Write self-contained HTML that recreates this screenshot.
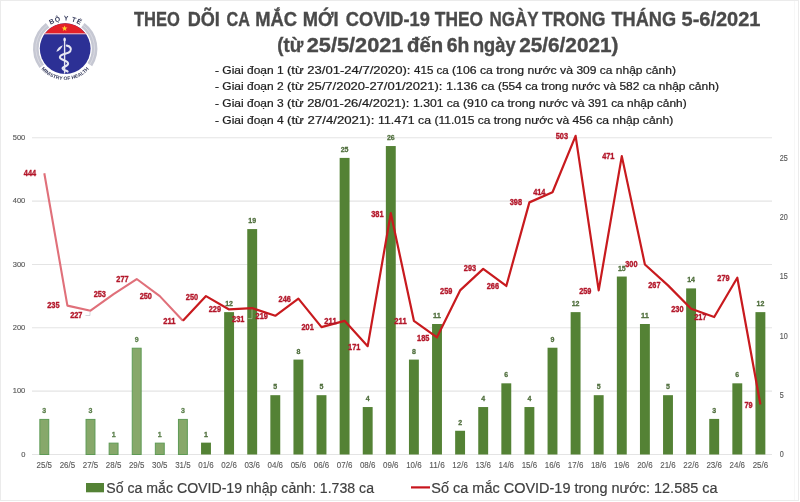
<!DOCTYPE html>
<html><head><meta charset="utf-8"><style>
html,body{margin:0;padding:0;background:#fff;}
svg{display:block;font-family:"Liberation Sans", sans-serif;will-change:transform;}
</style></head><body>
<svg width="800" height="502" viewBox="0 0 800 502">
<rect x="0.5" y="0.5" width="798" height="500" fill="#fff" stroke="#ebebeb" stroke-width="1"/><line x1="794.5" y1="1" x2="794.5" y2="500" stroke="#f7f7f7"/>
<line x1="32" y1="391.15" x2="772" y2="391.15" stroke="#e4e4e4" stroke-width="1.1"/>
<line x1="32" y1="327.80" x2="772" y2="327.80" stroke="#e4e4e4" stroke-width="1.1"/>
<line x1="32" y1="264.45" x2="772" y2="264.45" stroke="#e4e4e4" stroke-width="1.1"/>
<line x1="32" y1="201.10" x2="772" y2="201.10" stroke="#e4e4e4" stroke-width="1.1"/>
<line x1="32" y1="137.75" x2="772" y2="137.75" stroke="#e4e4e4" stroke-width="1.1"/>
<line x1="32" y1="454.50" x2="772" y2="454.50" stroke="#e4e4e4" stroke-width="1.1"/>
<text x="21.13" y="456.70" font-size="7.9" fill="#595959" stroke="#595959" stroke-width="0.15" textLength="4.17" lengthAdjust="spacingAndGlyphs">0</text>
<text x="12.79" y="393.35" font-size="7.9" fill="#595959" stroke="#595959" stroke-width="0.15" textLength="12.51" lengthAdjust="spacingAndGlyphs">100</text>
<text x="12.79" y="330.00" font-size="7.9" fill="#595959" stroke="#595959" stroke-width="0.15" textLength="12.51" lengthAdjust="spacingAndGlyphs">200</text>
<text x="12.79" y="266.65" font-size="7.9" fill="#595959" stroke="#595959" stroke-width="0.15" textLength="12.51" lengthAdjust="spacingAndGlyphs">300</text>
<text x="12.79" y="203.30" font-size="7.9" fill="#595959" stroke="#595959" stroke-width="0.15" textLength="12.51" lengthAdjust="spacingAndGlyphs">400</text>
<text x="12.79" y="139.95" font-size="7.9" fill="#595959" stroke="#595959" stroke-width="0.15" textLength="12.51" lengthAdjust="spacingAndGlyphs">500</text>
<text x="779.8" y="457.40" font-size="8.7" fill="#595959" stroke="#595959" stroke-width="0.15" textLength="4.00" lengthAdjust="spacingAndGlyphs">0</text>
<text x="779.8" y="398.08" font-size="8.7" fill="#595959" stroke="#595959" stroke-width="0.15" textLength="4.00" lengthAdjust="spacingAndGlyphs">5</text>
<text x="779.8" y="338.76" font-size="8.7" fill="#595959" stroke="#595959" stroke-width="0.15" textLength="8.00" lengthAdjust="spacingAndGlyphs">10</text>
<text x="779.8" y="279.44" font-size="8.7" fill="#595959" stroke="#595959" stroke-width="0.15" textLength="8.00" lengthAdjust="spacingAndGlyphs">15</text>
<text x="779.8" y="220.12" font-size="8.7" fill="#595959" stroke="#595959" stroke-width="0.15" textLength="8.00" lengthAdjust="spacingAndGlyphs">20</text>
<text x="779.8" y="160.80" font-size="8.7" fill="#595959" stroke="#595959" stroke-width="0.15" textLength="8.00" lengthAdjust="spacingAndGlyphs">25</text>
<rect x="39.85" y="419.41" width="8.9" height="35.09" fill="#87a86a" stroke="#5e9a55" stroke-width="1"/>
<text x="44.30" y="412.91" text-anchor="middle" font-size="7.9" font-weight="bold" fill="#5b7f4b" stroke="#5b7f4b" stroke-width="0.3" textLength="3.9" lengthAdjust="spacingAndGlyphs">3</text>
<rect x="86.05" y="419.41" width="8.9" height="35.09" fill="#87a86a" stroke="#5e9a55" stroke-width="1"/>
<text x="90.50" y="412.91" text-anchor="middle" font-size="7.9" font-weight="bold" fill="#5b7f4b" stroke="#5b7f4b" stroke-width="0.3" textLength="3.9" lengthAdjust="spacingAndGlyphs">3</text>
<rect x="109.15" y="443.14" width="8.9" height="11.36" fill="#87a86a" stroke="#5e9a55" stroke-width="1"/>
<text x="113.60" y="436.64" text-anchor="middle" font-size="7.9" font-weight="bold" fill="#5b7f4b" stroke="#5b7f4b" stroke-width="0.3" textLength="3.9" lengthAdjust="spacingAndGlyphs">1</text>
<rect x="132.25" y="348.22" width="8.9" height="106.28" fill="#87a86a" stroke="#5e9a55" stroke-width="1"/>
<text x="136.70" y="341.72" text-anchor="middle" font-size="7.9" font-weight="bold" fill="#5b7f4b" stroke="#5b7f4b" stroke-width="0.3" textLength="3.9" lengthAdjust="spacingAndGlyphs">9</text>
<rect x="155.35" y="443.14" width="8.9" height="11.36" fill="#87a86a" stroke="#5e9a55" stroke-width="1"/>
<text x="159.80" y="436.64" text-anchor="middle" font-size="7.9" font-weight="bold" fill="#5b7f4b" stroke="#5b7f4b" stroke-width="0.3" textLength="3.9" lengthAdjust="spacingAndGlyphs">1</text>
<rect x="178.45" y="419.41" width="8.9" height="35.09" fill="#87a86a" stroke="#5e9a55" stroke-width="1"/>
<text x="182.90" y="412.91" text-anchor="middle" font-size="7.9" font-weight="bold" fill="#5b7f4b" stroke="#5b7f4b" stroke-width="0.3" textLength="3.9" lengthAdjust="spacingAndGlyphs">3</text>
<rect x="201.05" y="442.64" width="9.9" height="11.86" fill="#548235"/>
<text x="206.00" y="436.64" text-anchor="middle" font-size="7.9" font-weight="bold" fill="#4f6e3c" stroke="#4f6e3c" stroke-width="0.3" textLength="3.9" lengthAdjust="spacingAndGlyphs">1</text>
<rect x="224.15" y="312.13" width="9.9" height="142.37" fill="#548235"/>
<text x="229.10" y="306.13" text-anchor="middle" font-size="7.9" font-weight="bold" fill="#4f6e3c" stroke="#4f6e3c" stroke-width="0.3" textLength="7.8" lengthAdjust="spacingAndGlyphs">12</text>
<rect x="247.25" y="229.08" width="9.9" height="225.42" fill="#548235"/>
<text x="252.20" y="223.08" text-anchor="middle" font-size="7.9" font-weight="bold" fill="#4f6e3c" stroke="#4f6e3c" stroke-width="0.3" textLength="7.8" lengthAdjust="spacingAndGlyphs">19</text>
<rect x="270.35" y="395.18" width="9.9" height="59.32" fill="#548235"/>
<text x="275.30" y="389.18" text-anchor="middle" font-size="7.9" font-weight="bold" fill="#4f6e3c" stroke="#4f6e3c" stroke-width="0.3" textLength="3.9" lengthAdjust="spacingAndGlyphs">5</text>
<rect x="293.45" y="359.59" width="9.9" height="94.91" fill="#548235"/>
<text x="298.40" y="353.59" text-anchor="middle" font-size="7.9" font-weight="bold" fill="#4f6e3c" stroke="#4f6e3c" stroke-width="0.3" textLength="3.9" lengthAdjust="spacingAndGlyphs">8</text>
<rect x="316.55" y="395.18" width="9.9" height="59.32" fill="#548235"/>
<text x="321.50" y="389.18" text-anchor="middle" font-size="7.9" font-weight="bold" fill="#4f6e3c" stroke="#4f6e3c" stroke-width="0.3" textLength="3.9" lengthAdjust="spacingAndGlyphs">5</text>
<rect x="339.65" y="157.90" width="9.9" height="296.60" fill="#548235"/>
<text x="344.60" y="151.90" text-anchor="middle" font-size="7.9" font-weight="bold" fill="#4f6e3c" stroke="#4f6e3c" stroke-width="0.3" textLength="7.8" lengthAdjust="spacingAndGlyphs">25</text>
<rect x="362.75" y="407.04" width="9.9" height="47.46" fill="#548235"/>
<text x="367.70" y="401.04" text-anchor="middle" font-size="7.9" font-weight="bold" fill="#4f6e3c" stroke="#4f6e3c" stroke-width="0.3" textLength="3.9" lengthAdjust="spacingAndGlyphs">4</text>
<rect x="385.85" y="146.04" width="9.9" height="308.46" fill="#548235"/>
<text x="390.80" y="140.04" text-anchor="middle" font-size="7.9" font-weight="bold" fill="#4f6e3c" stroke="#4f6e3c" stroke-width="0.3" textLength="7.8" lengthAdjust="spacingAndGlyphs">26</text>
<rect x="408.95" y="359.59" width="9.9" height="94.91" fill="#548235"/>
<text x="413.90" y="353.59" text-anchor="middle" font-size="7.9" font-weight="bold" fill="#4f6e3c" stroke="#4f6e3c" stroke-width="0.3" textLength="3.9" lengthAdjust="spacingAndGlyphs">8</text>
<rect x="432.05" y="324.00" width="9.9" height="130.50" fill="#548235"/>
<text x="437.00" y="318.00" text-anchor="middle" font-size="7.9" font-weight="bold" fill="#4f6e3c" stroke="#4f6e3c" stroke-width="0.3" textLength="7.8" lengthAdjust="spacingAndGlyphs">11</text>
<rect x="455.15" y="430.77" width="9.9" height="23.73" fill="#548235"/>
<text x="460.10" y="424.77" text-anchor="middle" font-size="7.9" font-weight="bold" fill="#4f6e3c" stroke="#4f6e3c" stroke-width="0.3" textLength="3.9" lengthAdjust="spacingAndGlyphs">2</text>
<rect x="478.25" y="407.04" width="9.9" height="47.46" fill="#548235"/>
<text x="483.20" y="401.04" text-anchor="middle" font-size="7.9" font-weight="bold" fill="#4f6e3c" stroke="#4f6e3c" stroke-width="0.3" textLength="3.9" lengthAdjust="spacingAndGlyphs">4</text>
<rect x="501.35" y="383.32" width="9.9" height="71.18" fill="#548235"/>
<text x="506.30" y="377.32" text-anchor="middle" font-size="7.9" font-weight="bold" fill="#4f6e3c" stroke="#4f6e3c" stroke-width="0.3" textLength="3.9" lengthAdjust="spacingAndGlyphs">6</text>
<rect x="524.45" y="407.04" width="9.9" height="47.46" fill="#548235"/>
<text x="529.40" y="401.04" text-anchor="middle" font-size="7.9" font-weight="bold" fill="#4f6e3c" stroke="#4f6e3c" stroke-width="0.3" textLength="3.9" lengthAdjust="spacingAndGlyphs">4</text>
<rect x="547.55" y="347.72" width="9.9" height="106.78" fill="#548235"/>
<text x="552.50" y="341.72" text-anchor="middle" font-size="7.9" font-weight="bold" fill="#4f6e3c" stroke="#4f6e3c" stroke-width="0.3" textLength="3.9" lengthAdjust="spacingAndGlyphs">9</text>
<rect x="570.65" y="312.13" width="9.9" height="142.37" fill="#548235"/>
<text x="575.60" y="306.13" text-anchor="middle" font-size="7.9" font-weight="bold" fill="#4f6e3c" stroke="#4f6e3c" stroke-width="0.3" textLength="7.8" lengthAdjust="spacingAndGlyphs">12</text>
<rect x="593.75" y="395.18" width="9.9" height="59.32" fill="#548235"/>
<text x="598.70" y="389.18" text-anchor="middle" font-size="7.9" font-weight="bold" fill="#4f6e3c" stroke="#4f6e3c" stroke-width="0.3" textLength="3.9" lengthAdjust="spacingAndGlyphs">5</text>
<rect x="616.85" y="276.54" width="9.9" height="177.96" fill="#548235"/>
<text x="621.80" y="270.54" text-anchor="middle" font-size="7.9" font-weight="bold" fill="#4f6e3c" stroke="#4f6e3c" stroke-width="0.3" textLength="7.8" lengthAdjust="spacingAndGlyphs">15</text>
<rect x="639.95" y="324.00" width="9.9" height="130.50" fill="#548235"/>
<text x="644.90" y="318.00" text-anchor="middle" font-size="7.9" font-weight="bold" fill="#4f6e3c" stroke="#4f6e3c" stroke-width="0.3" textLength="7.8" lengthAdjust="spacingAndGlyphs">11</text>
<rect x="663.05" y="395.18" width="9.9" height="59.32" fill="#548235"/>
<text x="668.00" y="389.18" text-anchor="middle" font-size="7.9" font-weight="bold" fill="#4f6e3c" stroke="#4f6e3c" stroke-width="0.3" textLength="3.9" lengthAdjust="spacingAndGlyphs">5</text>
<rect x="686.15" y="288.40" width="9.9" height="166.10" fill="#548235"/>
<text x="691.10" y="282.40" text-anchor="middle" font-size="7.9" font-weight="bold" fill="#4f6e3c" stroke="#4f6e3c" stroke-width="0.3" textLength="7.8" lengthAdjust="spacingAndGlyphs">14</text>
<rect x="709.25" y="418.91" width="9.9" height="35.59" fill="#548235"/>
<text x="714.20" y="412.91" text-anchor="middle" font-size="7.9" font-weight="bold" fill="#4f6e3c" stroke="#4f6e3c" stroke-width="0.3" textLength="3.9" lengthAdjust="spacingAndGlyphs">3</text>
<rect x="732.35" y="383.32" width="9.9" height="71.18" fill="#548235"/>
<text x="737.30" y="377.32" text-anchor="middle" font-size="7.9" font-weight="bold" fill="#4f6e3c" stroke="#4f6e3c" stroke-width="0.3" textLength="3.9" lengthAdjust="spacingAndGlyphs">6</text>
<rect x="755.45" y="312.13" width="9.9" height="142.37" fill="#548235"/>
<text x="760.40" y="306.13" text-anchor="middle" font-size="7.9" font-weight="bold" fill="#4f6e3c" stroke="#4f6e3c" stroke-width="0.3" textLength="7.8" lengthAdjust="spacingAndGlyphs">12</text>
<text x="36.55" y="467.9" font-size="8.9" fill="#595959" stroke="#595959" stroke-width="0.12" textLength="15.5" lengthAdjust="spacingAndGlyphs">25/5</text>
<text x="59.65" y="467.9" font-size="8.9" fill="#595959" stroke="#595959" stroke-width="0.12" textLength="15.5" lengthAdjust="spacingAndGlyphs">26/5</text>
<text x="82.75" y="467.9" font-size="8.9" fill="#595959" stroke="#595959" stroke-width="0.12" textLength="15.5" lengthAdjust="spacingAndGlyphs">27/5</text>
<text x="105.85" y="467.9" font-size="8.9" fill="#595959" stroke="#595959" stroke-width="0.12" textLength="15.5" lengthAdjust="spacingAndGlyphs">28/5</text>
<text x="128.95" y="467.9" font-size="8.9" fill="#595959" stroke="#595959" stroke-width="0.12" textLength="15.5" lengthAdjust="spacingAndGlyphs">29/5</text>
<text x="152.05" y="467.9" font-size="8.9" fill="#595959" stroke="#595959" stroke-width="0.12" textLength="15.5" lengthAdjust="spacingAndGlyphs">30/5</text>
<text x="175.15" y="467.9" font-size="8.9" fill="#595959" stroke="#595959" stroke-width="0.12" textLength="15.5" lengthAdjust="spacingAndGlyphs">31/5</text>
<text x="198.25" y="467.9" font-size="8.9" fill="#595959" stroke="#595959" stroke-width="0.12" textLength="15.5" lengthAdjust="spacingAndGlyphs">01/6</text>
<text x="221.35" y="467.9" font-size="8.9" fill="#595959" stroke="#595959" stroke-width="0.12" textLength="15.5" lengthAdjust="spacingAndGlyphs">02/6</text>
<text x="244.45" y="467.9" font-size="8.9" fill="#595959" stroke="#595959" stroke-width="0.12" textLength="15.5" lengthAdjust="spacingAndGlyphs">03/6</text>
<text x="267.55" y="467.9" font-size="8.9" fill="#595959" stroke="#595959" stroke-width="0.12" textLength="15.5" lengthAdjust="spacingAndGlyphs">04/6</text>
<text x="290.65" y="467.9" font-size="8.9" fill="#595959" stroke="#595959" stroke-width="0.12" textLength="15.5" lengthAdjust="spacingAndGlyphs">05/6</text>
<text x="313.75" y="467.9" font-size="8.9" fill="#595959" stroke="#595959" stroke-width="0.12" textLength="15.5" lengthAdjust="spacingAndGlyphs">06/6</text>
<text x="336.85" y="467.9" font-size="8.9" fill="#595959" stroke="#595959" stroke-width="0.12" textLength="15.5" lengthAdjust="spacingAndGlyphs">07/6</text>
<text x="359.95" y="467.9" font-size="8.9" fill="#595959" stroke="#595959" stroke-width="0.12" textLength="15.5" lengthAdjust="spacingAndGlyphs">08/6</text>
<text x="383.05" y="467.9" font-size="8.9" fill="#595959" stroke="#595959" stroke-width="0.12" textLength="15.5" lengthAdjust="spacingAndGlyphs">09/6</text>
<text x="406.15" y="467.9" font-size="8.9" fill="#595959" stroke="#595959" stroke-width="0.12" textLength="15.5" lengthAdjust="spacingAndGlyphs">10/6</text>
<text x="429.25" y="467.9" font-size="8.9" fill="#595959" stroke="#595959" stroke-width="0.12" textLength="15.5" lengthAdjust="spacingAndGlyphs">11/6</text>
<text x="452.35" y="467.9" font-size="8.9" fill="#595959" stroke="#595959" stroke-width="0.12" textLength="15.5" lengthAdjust="spacingAndGlyphs">12/6</text>
<text x="475.45" y="467.9" font-size="8.9" fill="#595959" stroke="#595959" stroke-width="0.12" textLength="15.5" lengthAdjust="spacingAndGlyphs">13/6</text>
<text x="498.55" y="467.9" font-size="8.9" fill="#595959" stroke="#595959" stroke-width="0.12" textLength="15.5" lengthAdjust="spacingAndGlyphs">14/6</text>
<text x="521.65" y="467.9" font-size="8.9" fill="#595959" stroke="#595959" stroke-width="0.12" textLength="15.5" lengthAdjust="spacingAndGlyphs">15/6</text>
<text x="544.75" y="467.9" font-size="8.9" fill="#595959" stroke="#595959" stroke-width="0.12" textLength="15.5" lengthAdjust="spacingAndGlyphs">16/6</text>
<text x="567.85" y="467.9" font-size="8.9" fill="#595959" stroke="#595959" stroke-width="0.12" textLength="15.5" lengthAdjust="spacingAndGlyphs">17/6</text>
<text x="590.95" y="467.9" font-size="8.9" fill="#595959" stroke="#595959" stroke-width="0.12" textLength="15.5" lengthAdjust="spacingAndGlyphs">18/6</text>
<text x="614.05" y="467.9" font-size="8.9" fill="#595959" stroke="#595959" stroke-width="0.12" textLength="15.5" lengthAdjust="spacingAndGlyphs">19/6</text>
<text x="637.15" y="467.9" font-size="8.9" fill="#595959" stroke="#595959" stroke-width="0.12" textLength="15.5" lengthAdjust="spacingAndGlyphs">20/6</text>
<text x="660.25" y="467.9" font-size="8.9" fill="#595959" stroke="#595959" stroke-width="0.12" textLength="15.5" lengthAdjust="spacingAndGlyphs">21/6</text>
<text x="683.35" y="467.9" font-size="8.9" fill="#595959" stroke="#595959" stroke-width="0.12" textLength="15.5" lengthAdjust="spacingAndGlyphs">22/6</text>
<text x="706.45" y="467.9" font-size="8.9" fill="#595959" stroke="#595959" stroke-width="0.12" textLength="15.5" lengthAdjust="spacingAndGlyphs">23/6</text>
<text x="729.55" y="467.9" font-size="8.9" fill="#595959" stroke="#595959" stroke-width="0.12" textLength="15.5" lengthAdjust="spacingAndGlyphs">24/6</text>
<text x="752.65" y="467.9" font-size="8.9" fill="#595959" stroke="#595959" stroke-width="0.12" textLength="15.5" lengthAdjust="spacingAndGlyphs">25/6</text>
<polyline points="44.30,173.23 67.40,305.63 90.50,310.70 113.60,294.22 136.70,279.02 159.80,296.12 182.90,320.83" fill="none" stroke="#e0707a" stroke-width="2.1" stroke-linejoin="round"/>
<polyline points="182.90,320.83 206.00,296.12 229.10,309.43 252.20,308.16 275.30,315.76 298.40,298.66 321.50,327.17 344.60,320.83 367.70,346.17 390.80,213.14 413.90,320.83 437.00,337.30 460.10,290.42 483.20,268.88 506.30,285.99 529.40,202.37 552.50,192.23 575.60,135.85 598.70,290.42 621.80,156.12 644.90,264.45 668.00,285.36 691.10,308.80 714.20,317.03 737.30,277.75 760.40,404.45" fill="none" stroke="#c81a1e" stroke-width="2.2" stroke-linejoin="round"/>
<polyline points="252,309.5 252,318.6 247.8,318.6" fill="none" stroke="#a9c79a" stroke-width="0.7"/>
<polyline points="90,312 90,315.5 85.5,315.5" fill="none" stroke="#c4c4cc" stroke-width="0.7"/>
<text x="30.00" y="176.30" text-anchor="middle" font-size="8.6" font-weight="bold" fill="#b3172a" stroke="#b3172a" stroke-width="0.35" textLength="12.3" lengthAdjust="spacingAndGlyphs">444</text>
<text x="53.40" y="308.20" text-anchor="middle" font-size="8.6" font-weight="bold" fill="#b3172a" stroke="#b3172a" stroke-width="0.35" textLength="12.3" lengthAdjust="spacingAndGlyphs">235</text>
<text x="76.30" y="318.20" text-anchor="middle" font-size="8.6" font-weight="bold" fill="#b3172a" stroke="#b3172a" stroke-width="0.35" textLength="12.3" lengthAdjust="spacingAndGlyphs">227</text>
<text x="99.80" y="296.90" text-anchor="middle" font-size="8.6" font-weight="bold" fill="#b3172a" stroke="#b3172a" stroke-width="0.35" textLength="12.3" lengthAdjust="spacingAndGlyphs">253</text>
<text x="122.50" y="282.30" text-anchor="middle" font-size="8.6" font-weight="bold" fill="#b3172a" stroke="#b3172a" stroke-width="0.35" textLength="12.3" lengthAdjust="spacingAndGlyphs">277</text>
<text x="145.80" y="299.40" text-anchor="middle" font-size="8.6" font-weight="bold" fill="#b3172a" stroke="#b3172a" stroke-width="0.35" textLength="12.3" lengthAdjust="spacingAndGlyphs">250</text>
<text x="169.30" y="324.10" text-anchor="middle" font-size="8.6" font-weight="bold" fill="#b3172a" stroke="#b3172a" stroke-width="0.35" textLength="12.3" lengthAdjust="spacingAndGlyphs">211</text>
<text x="192.00" y="299.90" text-anchor="middle" font-size="8.6" font-weight="bold" fill="#b3172a" stroke="#b3172a" stroke-width="0.35" textLength="12.3" lengthAdjust="spacingAndGlyphs">250</text>
<text x="214.90" y="312.30" text-anchor="middle" font-size="8.6" font-weight="bold" fill="#b3172a" stroke="#b3172a" stroke-width="0.35" textLength="12.3" lengthAdjust="spacingAndGlyphs">229</text>
<text x="238.20" y="322.10" text-anchor="middle" font-size="8.6" font-weight="bold" fill="#b3172a" stroke="#b3172a" stroke-width="0.35" textLength="12.3" lengthAdjust="spacingAndGlyphs">231</text>
<text x="261.70" y="319.10" text-anchor="middle" font-size="8.6" font-weight="bold" fill="#b3172a" stroke="#b3172a" stroke-width="0.35" textLength="12.3" lengthAdjust="spacingAndGlyphs">219</text>
<text x="284.70" y="302.40" text-anchor="middle" font-size="8.6" font-weight="bold" fill="#b3172a" stroke="#b3172a" stroke-width="0.35" textLength="12.3" lengthAdjust="spacingAndGlyphs">246</text>
<text x="307.60" y="330.30" text-anchor="middle" font-size="8.6" font-weight="bold" fill="#b3172a" stroke="#b3172a" stroke-width="0.35" textLength="12.3" lengthAdjust="spacingAndGlyphs">201</text>
<text x="330.50" y="324.30" text-anchor="middle" font-size="8.6" font-weight="bold" fill="#b3172a" stroke="#b3172a" stroke-width="0.35" textLength="12.3" lengthAdjust="spacingAndGlyphs">211</text>
<text x="354.20" y="349.60" text-anchor="middle" font-size="8.6" font-weight="bold" fill="#b3172a" stroke="#b3172a" stroke-width="0.35" textLength="12.3" lengthAdjust="spacingAndGlyphs">171</text>
<text x="377.40" y="216.60" text-anchor="middle" font-size="8.6" font-weight="bold" fill="#b3172a" stroke="#b3172a" stroke-width="0.35" textLength="12.3" lengthAdjust="spacingAndGlyphs">381</text>
<text x="400.50" y="324.30" text-anchor="middle" font-size="8.6" font-weight="bold" fill="#b3172a" stroke="#b3172a" stroke-width="0.35" textLength="12.3" lengthAdjust="spacingAndGlyphs">211</text>
<text x="423.20" y="340.90" text-anchor="middle" font-size="8.6" font-weight="bold" fill="#b3172a" stroke="#b3172a" stroke-width="0.35" textLength="12.3" lengthAdjust="spacingAndGlyphs">185</text>
<text x="446.20" y="293.80" text-anchor="middle" font-size="8.6" font-weight="bold" fill="#b3172a" stroke="#b3172a" stroke-width="0.35" textLength="12.3" lengthAdjust="spacingAndGlyphs">259</text>
<text x="470.00" y="271.40" text-anchor="middle" font-size="8.6" font-weight="bold" fill="#b3172a" stroke="#b3172a" stroke-width="0.35" textLength="12.3" lengthAdjust="spacingAndGlyphs">293</text>
<text x="492.90" y="289.40" text-anchor="middle" font-size="8.6" font-weight="bold" fill="#b3172a" stroke="#b3172a" stroke-width="0.35" textLength="12.3" lengthAdjust="spacingAndGlyphs">266</text>
<text x="515.90" y="205.30" text-anchor="middle" font-size="8.6" font-weight="bold" fill="#b3172a" stroke="#b3172a" stroke-width="0.35" textLength="12.3" lengthAdjust="spacingAndGlyphs">398</text>
<text x="539.30" y="194.90" text-anchor="middle" font-size="8.6" font-weight="bold" fill="#b3172a" stroke="#b3172a" stroke-width="0.35" textLength="12.3" lengthAdjust="spacingAndGlyphs">414</text>
<text x="561.90" y="138.80" text-anchor="middle" font-size="8.6" font-weight="bold" fill="#b3172a" stroke="#b3172a" stroke-width="0.35" textLength="12.3" lengthAdjust="spacingAndGlyphs">503</text>
<text x="585.30" y="293.60" text-anchor="middle" font-size="8.6" font-weight="bold" fill="#b3172a" stroke="#b3172a" stroke-width="0.35" textLength="12.3" lengthAdjust="spacingAndGlyphs">259</text>
<text x="608.30" y="159.30" text-anchor="middle" font-size="8.6" font-weight="bold" fill="#b3172a" stroke="#b3172a" stroke-width="0.35" textLength="12.3" lengthAdjust="spacingAndGlyphs">471</text>
<text x="631.40" y="267.30" text-anchor="middle" font-size="8.6" font-weight="bold" fill="#b3172a" stroke="#b3172a" stroke-width="0.35" textLength="12.3" lengthAdjust="spacingAndGlyphs">300</text>
<text x="654.40" y="288.20" text-anchor="middle" font-size="8.6" font-weight="bold" fill="#b3172a" stroke="#b3172a" stroke-width="0.35" textLength="12.3" lengthAdjust="spacingAndGlyphs">267</text>
<text x="677.40" y="312.00" text-anchor="middle" font-size="8.6" font-weight="bold" fill="#b3172a" stroke="#b3172a" stroke-width="0.35" textLength="12.3" lengthAdjust="spacingAndGlyphs">230</text>
<text x="700.40" y="319.60" text-anchor="middle" font-size="8.6" font-weight="bold" fill="#b3172a" stroke="#b3172a" stroke-width="0.35" textLength="12.3" lengthAdjust="spacingAndGlyphs">217</text>
<text x="723.50" y="281.10" text-anchor="middle" font-size="8.6" font-weight="bold" fill="#b3172a" stroke="#b3172a" stroke-width="0.35" textLength="12.3" lengthAdjust="spacingAndGlyphs">279</text>
<text x="748.50" y="408.30" text-anchor="middle" font-size="8.6" font-weight="bold" fill="#b3172a" stroke="#b3172a" stroke-width="0.35" textLength="8.2" lengthAdjust="spacingAndGlyphs">79</text>
<rect x="86" y="483" width="18" height="9.3" fill="#548235"/>
<text x="106.3" y="492.5" font-size="15.3" fill="#404040" stroke="#404040" stroke-width="0.2" textLength="267.7" lengthAdjust="spacingAndGlyphs">Số ca mắc COVID-19 nhập cảnh: 1.738 ca</text>
<line x1="411" y1="487.4" x2="430" y2="487.4" stroke="#c8141c" stroke-width="2.2"/>
<text x="431.3" y="492.5" font-size="15.3" fill="#404040" stroke="#404040" stroke-width="0.2" textLength="286.3" lengthAdjust="spacingAndGlyphs">Số ca mắc COVID-19 trong nước: 12.585 ca</text>
<text x="134.0" y="25.7" font-size="19.6" font-weight="bold" fill="#4a4a4a" stroke="#4a4a4a" stroke-width="0.35" textLength="45.9" lengthAdjust="spacingAndGlyphs">THEO</text>
<text x="187.7" y="25.7" font-size="19.6" font-weight="bold" fill="#4a4a4a" stroke="#4a4a4a" stroke-width="0.35" textLength="32.2" lengthAdjust="spacingAndGlyphs">DÕI</text>
<text x="226.5" y="25.7" font-size="19.6" font-weight="bold" fill="#4a4a4a" stroke="#4a4a4a" stroke-width="0.35" textLength="23.4" lengthAdjust="spacingAndGlyphs">CA</text>
<text x="255.2" y="25.7" font-size="19.6" font-weight="bold" fill="#4a4a4a" stroke="#4a4a4a" stroke-width="0.35" textLength="41.9" lengthAdjust="spacingAndGlyphs">MẮC</text>
<text x="302.7" y="25.7" font-size="19.6" font-weight="bold" fill="#4a4a4a" stroke="#4a4a4a" stroke-width="0.35" textLength="35.9" lengthAdjust="spacingAndGlyphs">MỚI</text>
<text x="345.8" y="25.7" font-size="19.6" font-weight="bold" fill="#4a4a4a" stroke="#4a4a4a" stroke-width="0.35" textLength="84.1" lengthAdjust="spacingAndGlyphs">COVID-19</text>
<text x="434.8" y="25.7" font-size="19.6" font-weight="bold" fill="#4a4a4a" stroke="#4a4a4a" stroke-width="0.35" textLength="48.2" lengthAdjust="spacingAndGlyphs">THEO</text>
<text x="489.6" y="25.7" font-size="19.6" font-weight="bold" fill="#4a4a4a" stroke="#4a4a4a" stroke-width="0.35" textLength="49.0" lengthAdjust="spacingAndGlyphs">NGÀY</text>
<text x="542.1" y="25.7" font-size="19.6" font-weight="bold" fill="#4a4a4a" stroke="#4a4a4a" stroke-width="0.35" textLength="63.4" lengthAdjust="spacingAndGlyphs">TRONG</text>
<text x="611.5" y="25.7" font-size="19.6" font-weight="bold" fill="#4a4a4a" stroke="#4a4a4a" stroke-width="0.35" textLength="64.6" lengthAdjust="spacingAndGlyphs">THÁNG</text>
<text x="681.5" y="25.7" font-size="19.6" font-weight="bold" fill="#4a4a4a" stroke="#4a4a4a" stroke-width="0.35" textLength="79.0" lengthAdjust="spacingAndGlyphs">5-6/2021</text>
<text x="277.2" y="51.75" font-size="19.6" font-weight="bold" fill="#4a4a4a" stroke="#4a4a4a" stroke-width="0.35" textLength="26.0" lengthAdjust="spacingAndGlyphs">(từ</text>
<text x="306.8" y="51.75" font-size="19.6" font-weight="bold" fill="#4a4a4a" stroke="#4a4a4a" stroke-width="0.35" textLength="96.6" lengthAdjust="spacingAndGlyphs">25/5/2021</text>
<text x="407.0" y="51.75" font-size="19.6" font-weight="bold" fill="#4a4a4a" stroke="#4a4a4a" stroke-width="0.35" textLength="36.1" lengthAdjust="spacingAndGlyphs">đến</text>
<text x="446.7" y="51.75" font-size="19.6" font-weight="bold" fill="#4a4a4a" stroke="#4a4a4a" stroke-width="0.35" textLength="22.6" lengthAdjust="spacingAndGlyphs">6h</text>
<text x="472.9" y="51.75" font-size="19.6" font-weight="bold" fill="#4a4a4a" stroke="#4a4a4a" stroke-width="0.35" textLength="42.7" lengthAdjust="spacingAndGlyphs">ngày</text>
<text x="519.2" y="51.75" font-size="19.6" font-weight="bold" fill="#4a4a4a" stroke="#4a4a4a" stroke-width="0.35" textLength="99.3" lengthAdjust="spacingAndGlyphs">25/6/2021)</text>
<text x="215" y="73.5" font-size="10.8" fill="#1e1e1e" stroke="#1e1e1e" stroke-width="0.22" textLength="72.0" lengthAdjust="spacingAndGlyphs" xml:space="preserve">- Giai đoạn 1 </text>
<text x="287" y="73.5" font-size="10.8" fill="#1e1e1e" stroke="#1e1e1e" stroke-width="0.22" textLength="127.0" lengthAdjust="spacingAndGlyphs" xml:space="preserve">(từ 23/01-24/7/2020): </text>
<text x="414" y="73.5" font-size="10.8" fill="#1e1e1e" stroke="#1e1e1e" stroke-width="0.22" textLength="38.0" lengthAdjust="spacingAndGlyphs" xml:space="preserve">415 ca </text>
<text x="452" y="73.5" font-size="10.8" fill="#1e1e1e" stroke="#1e1e1e" stroke-width="0.22" textLength="124.4" lengthAdjust="spacingAndGlyphs" xml:space="preserve">(106 ca trong nước và </text>
<text x="576.4" y="73.5" font-size="10.8" fill="#1e1e1e" stroke="#1e1e1e" stroke-width="0.22" textLength="99.5" lengthAdjust="spacingAndGlyphs" xml:space="preserve">309 ca nhập cảnh)</text>
<text x="215" y="90.3" font-size="10.8" fill="#1e1e1e" stroke="#1e1e1e" stroke-width="0.22" textLength="72.0" lengthAdjust="spacingAndGlyphs" xml:space="preserve">- Giai đoạn 2 </text>
<text x="287" y="90.3" font-size="10.8" fill="#1e1e1e" stroke="#1e1e1e" stroke-width="0.22" textLength="159.0" lengthAdjust="spacingAndGlyphs" xml:space="preserve">(từ 25/7/2020-27/01/2021): </text>
<text x="446" y="90.3" font-size="10.8" fill="#1e1e1e" stroke="#1e1e1e" stroke-width="0.22" textLength="52.0" lengthAdjust="spacingAndGlyphs" xml:space="preserve">1.136 ca </text>
<text x="498" y="90.3" font-size="10.8" fill="#1e1e1e" stroke="#1e1e1e" stroke-width="0.22" textLength="121.4" lengthAdjust="spacingAndGlyphs" xml:space="preserve">(554 ca trong nước và </text>
<text x="619.4" y="90.3" font-size="10.8" fill="#1e1e1e" stroke="#1e1e1e" stroke-width="0.22" textLength="99.5" lengthAdjust="spacingAndGlyphs" xml:space="preserve">582 ca nhập cảnh)</text>
<text x="215" y="107.2" font-size="10.8" fill="#1e1e1e" stroke="#1e1e1e" stroke-width="0.22" textLength="72.0" lengthAdjust="spacingAndGlyphs" xml:space="preserve">- Giai đoạn 3 </text>
<text x="287" y="107.2" font-size="10.8" fill="#1e1e1e" stroke="#1e1e1e" stroke-width="0.22" textLength="126.0" lengthAdjust="spacingAndGlyphs" xml:space="preserve">(từ 28/01-26/4/2021): </text>
<text x="413" y="107.2" font-size="10.8" fill="#1e1e1e" stroke="#1e1e1e" stroke-width="0.22" textLength="50.0" lengthAdjust="spacingAndGlyphs" xml:space="preserve">1.301 ca </text>
<text x="463" y="107.2" font-size="10.8" fill="#1e1e1e" stroke="#1e1e1e" stroke-width="0.22" textLength="125.0" lengthAdjust="spacingAndGlyphs" xml:space="preserve">(910 ca trong nước và </text>
<text x="588" y="107.2" font-size="10.8" fill="#1e1e1e" stroke="#1e1e1e" stroke-width="0.22" textLength="98.6" lengthAdjust="spacingAndGlyphs" xml:space="preserve">391 ca nhập cảnh)</text>
<text x="215" y="123.6" font-size="10.8" fill="#1e1e1e" stroke="#1e1e1e" stroke-width="0.22" textLength="72.0" lengthAdjust="spacingAndGlyphs" xml:space="preserve">- Giai đoạn 4 </text>
<text x="287" y="123.6" font-size="10.8" fill="#1e1e1e" stroke="#1e1e1e" stroke-width="0.22" textLength="91.0" lengthAdjust="spacingAndGlyphs" xml:space="preserve">(từ 27/4/2021): </text>
<text x="378" y="123.6" font-size="10.8" fill="#1e1e1e" stroke="#1e1e1e" stroke-width="0.22" textLength="56.4" lengthAdjust="spacingAndGlyphs" xml:space="preserve">11.471 ca </text>
<text x="434.4" y="123.6" font-size="10.8" fill="#1e1e1e" stroke="#1e1e1e" stroke-width="0.22" textLength="138.2" lengthAdjust="spacingAndGlyphs" xml:space="preserve">(11.015 ca trong nước và </text>
<text x="572.6" y="123.6" font-size="10.8" fill="#1e1e1e" stroke="#1e1e1e" stroke-width="0.22" textLength="100.6" lengthAdjust="spacingAndGlyphs" xml:space="preserve">456 ca nhập cảnh)</text>

<defs>
 <path id="toparc" d="M38.89,39.02 A28.0,28.0 0 0 1 91.51,39.02"/>
 <path id="botarc" d="M34.87,56.73 A31.4,31.4 0 0 0 95.53,56.73"/>
</defs>
<path d="M47.54,25.16 A29.35,29.35 0 0 0 41.76,66.26" fill="none" stroke="#c6c8d3" stroke-width="5.7"/>
<path d="M82.86,25.16 A29.35,29.35 0 0 1 89.81,64.59" fill="none" stroke="#c6c8d3" stroke-width="5.7"/>
<path d="M47.54,25.16 A29.35,29.35 0 0 0 41.76,66.26" fill="none" stroke="#dfe0e7" stroke-width="0.7"/>
<path d="M82.86,25.16 A29.35,29.35 0 0 1 89.81,64.59" fill="none" stroke="#dfe0e7" stroke-width="0.7"/>
<circle cx="65.2" cy="48.6" r="26.4" fill="#fff"/>
<circle cx="65.2" cy="48.6" r="25.4" fill="#2c3095"/>
<path d="M44.78,33.5 A25.4,25.4 0 0 1 85.62,33.5 Z" fill="#e32129"/>
<rect x="44" y="33.2" width="42.4" height="1.1" fill="#f7b3b8"/>
<polygon points="64.6,25.6 65.4,27.6 67.5,27.6 65.8,28.9 66.4,30.9 64.6,29.7 62.8,30.9 63.4,28.9 61.7,27.6 63.8,27.6" fill="#ffd42a"/>
<line x1="64.6" y1="39" x2="64.6" y2="73.6" stroke="#e6e6f2" stroke-width="1.4"/>
<ellipse cx="64.6" cy="39.6" rx="1.2" ry="2" fill="#eeeef6"/>
<path d="M66.8,45.6 C69.8,46 72.2,48.6 70.2,51.4 C68.4,54 60.2,53.6 59.9,57 C59.6,60.2 68.2,60.4 68.1,63.6 C68,66.6 62.2,66.4 62.6,68.6 C63,70.6 66.4,70.4 67.6,71.6" fill="none" stroke="#e6e6f2" stroke-width="2.1" stroke-linecap="round"/>
<path d="M56.3,51.8 C57.3,48.4 59.8,46 62.8,45.2 C61.6,48.6 59.2,51 56.3,51.8 Z" fill="#e6e6f2"/>
<text font-size="6.8" font-weight="bold" fill="#363b5c"><textPath href="#toparc" startOffset="50%" text-anchor="middle" textLength="31" lengthAdjust="spacing">BỘ Y TẾ</textPath></text>
<text font-size="5.0" fill="#363b5c" font-weight="bold"><textPath href="#botarc" startOffset="50%" text-anchor="middle" textLength="54" lengthAdjust="spacingAndGlyphs">MINISTRY OF HEALTH</textPath></text>

</svg>
</body></html>
